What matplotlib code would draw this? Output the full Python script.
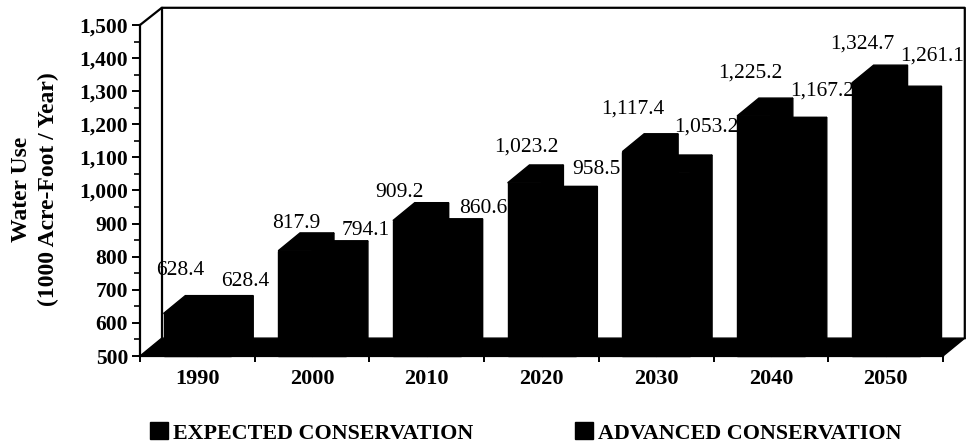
import matplotlib.pyplot as plt
from matplotlib.patches import Patch
from matplotlib.ticker import FuncFormatter, MultipleLocator

plt.rcParams['font.family'] = 'Liberation Serif'

years = ['1990', '2000', '2010', '2020', '2030', '2040', '2050']
expected = [628.4, 817.9, 909.2, 1023.2, 1117.4, 1225.2, 1324.7]
advanced = [628.4, 794.1, 860.6, 958.5, 1053.2, 1167.2, 1261.1]

# hand nudges for the value labels, in pixels from the front top of each bar
expected_nudge = [(0, 43), (1, 27), (-10, 28), (2, 36), (-7, 43), (-4, 43), (-6, 39)]
advanced_nudge = [(31, 32), (37, 28), (39, 28), (38, 35), (33, 46), (34, 44), (29, 48)]

# fake 3d depth in data units
depth_x = 0.19
depth_y = 54
y_floor = 500
bar_start = 0.205
bar_w = 0.296

W, H = 967, 444
fig = plt.figure(figsize=(W / 100, H / 100), dpi=100)
ax = fig.add_axes([140 / W, (H - 356) / H, 803 / W, 331 / H])
ax.set_xlim(0, 7)
ax.set_ylim(500, 1500)


def box(ax, x0, x1, top):
    # front, top and right side of one bar
    kw = dict(color='black', lw=1, clip_on=False, zorder=3)
    ax.fill([x0, x1, x1, x0], [y_floor, y_floor, top, top], **kw)
    ax.fill([x0, x1, x1 + depth_x, x0 + depth_x],
            [top, top, top + depth_y, top + depth_y], **kw)
    ax.fill([x1, x1 + depth_x, x1 + depth_x, x1],
            [y_floor, y_floor + depth_y, top + depth_y, top], **kw)


def label(ax, x, y, val, nudge):
    txt = f'{val:,.1f}'
    ax.annotate(txt, (x, y), xytext=nudge, textcoords='offset pixels',
                ha='center', va='center', fontsize=15.5, color='black',
                annotation_clip=False, zorder=4)


# back walls and floor
top = 1500
ax.plot([0, depth_x, 7 + depth_x, 7 + depth_x], [top, top + depth_y - 2, top + depth_y - 2, y_floor + depth_y],
        color='black', lw=1.6, clip_on=False, zorder=2)
ax.plot([depth_x, depth_x], [y_floor + depth_y, top + depth_y - 2],
        color='black', lw=1.6, clip_on=False, zorder=2)
ax.fill([0, depth_x, 7 + depth_x, 7], [y_floor, y_floor + depth_y, y_floor + depth_y, y_floor],
        color='black', lw=1, clip_on=False, zorder=2)

for i in range(len(years)):
    x0 = i + bar_start
    box(ax, x0, x0 + bar_w, expected[i])
    box(ax, x0 + bar_w, x0 + 2 * bar_w, advanced[i])
    label(ax, x0 + bar_w / 2, expected[i], expected[i], expected_nudge[i])
    label(ax, x0 + 1.5 * bar_w, advanced[i], advanced[i], advanced_nudge[i])

ax.spines['top'].set_visible(False)
ax.spines['right'].set_visible(False)
ax.spines['left'].set_linewidth(1.6)
ax.spines['bottom'].set_linewidth(1.6)

ax.yaxis.set_major_locator(MultipleLocator(100))
ax.yaxis.set_minor_locator(MultipleLocator(50))
ax.yaxis.set_major_formatter(FuncFormatter(lambda v, p: f'{int(v):,}'))
ax.tick_params(axis='y', which='major', length=5.5, width=1.4, pad=3, labelsize=15.5)
ax.tick_params(axis='y', which='minor', length=4, width=1.2)
for t in ax.get_yticklabels():
    t.set_fontweight('bold')

ax.set_xticks(range(8))
ax.set_xticklabels([])
ax.set_xticks([i + 0.5 for i in range(7)], minor=True)
ax.set_xticklabels(years, minor=True, fontsize=16, fontweight='bold')
ax.tick_params(axis='x', which='major', length=4, width=1.4)
ax.tick_params(axis='x', which='minor', length=0, pad=9.5)

fig.text(35 / W, 1 - 189 / H, 'Water Use\n(1000 Acre-Foot / Year)', rotation=90,
         ha='center', va='center', fontsize=17, fontweight='bold', linespacing=1.4)

handles = [Patch(color='black'), Patch(color='black')]
fig.legend(handles, ['EXPECTED CONSERVATION', 'ADVANCED CONSERVATION'], ncol=2,
           loc='center left', bbox_to_anchor=(150 / W, 1 - 433 / H), frameon=False,
           prop={'family': 'Liberation Serif', 'weight': 'bold', 'size': 15.8},
           handlelength=0.82, handleheight=0.8, handletextpad=0.25, columnspacing=4.6,
           borderpad=0, borderaxespad=0)

fig.savefig('out.png', dpi=100)
